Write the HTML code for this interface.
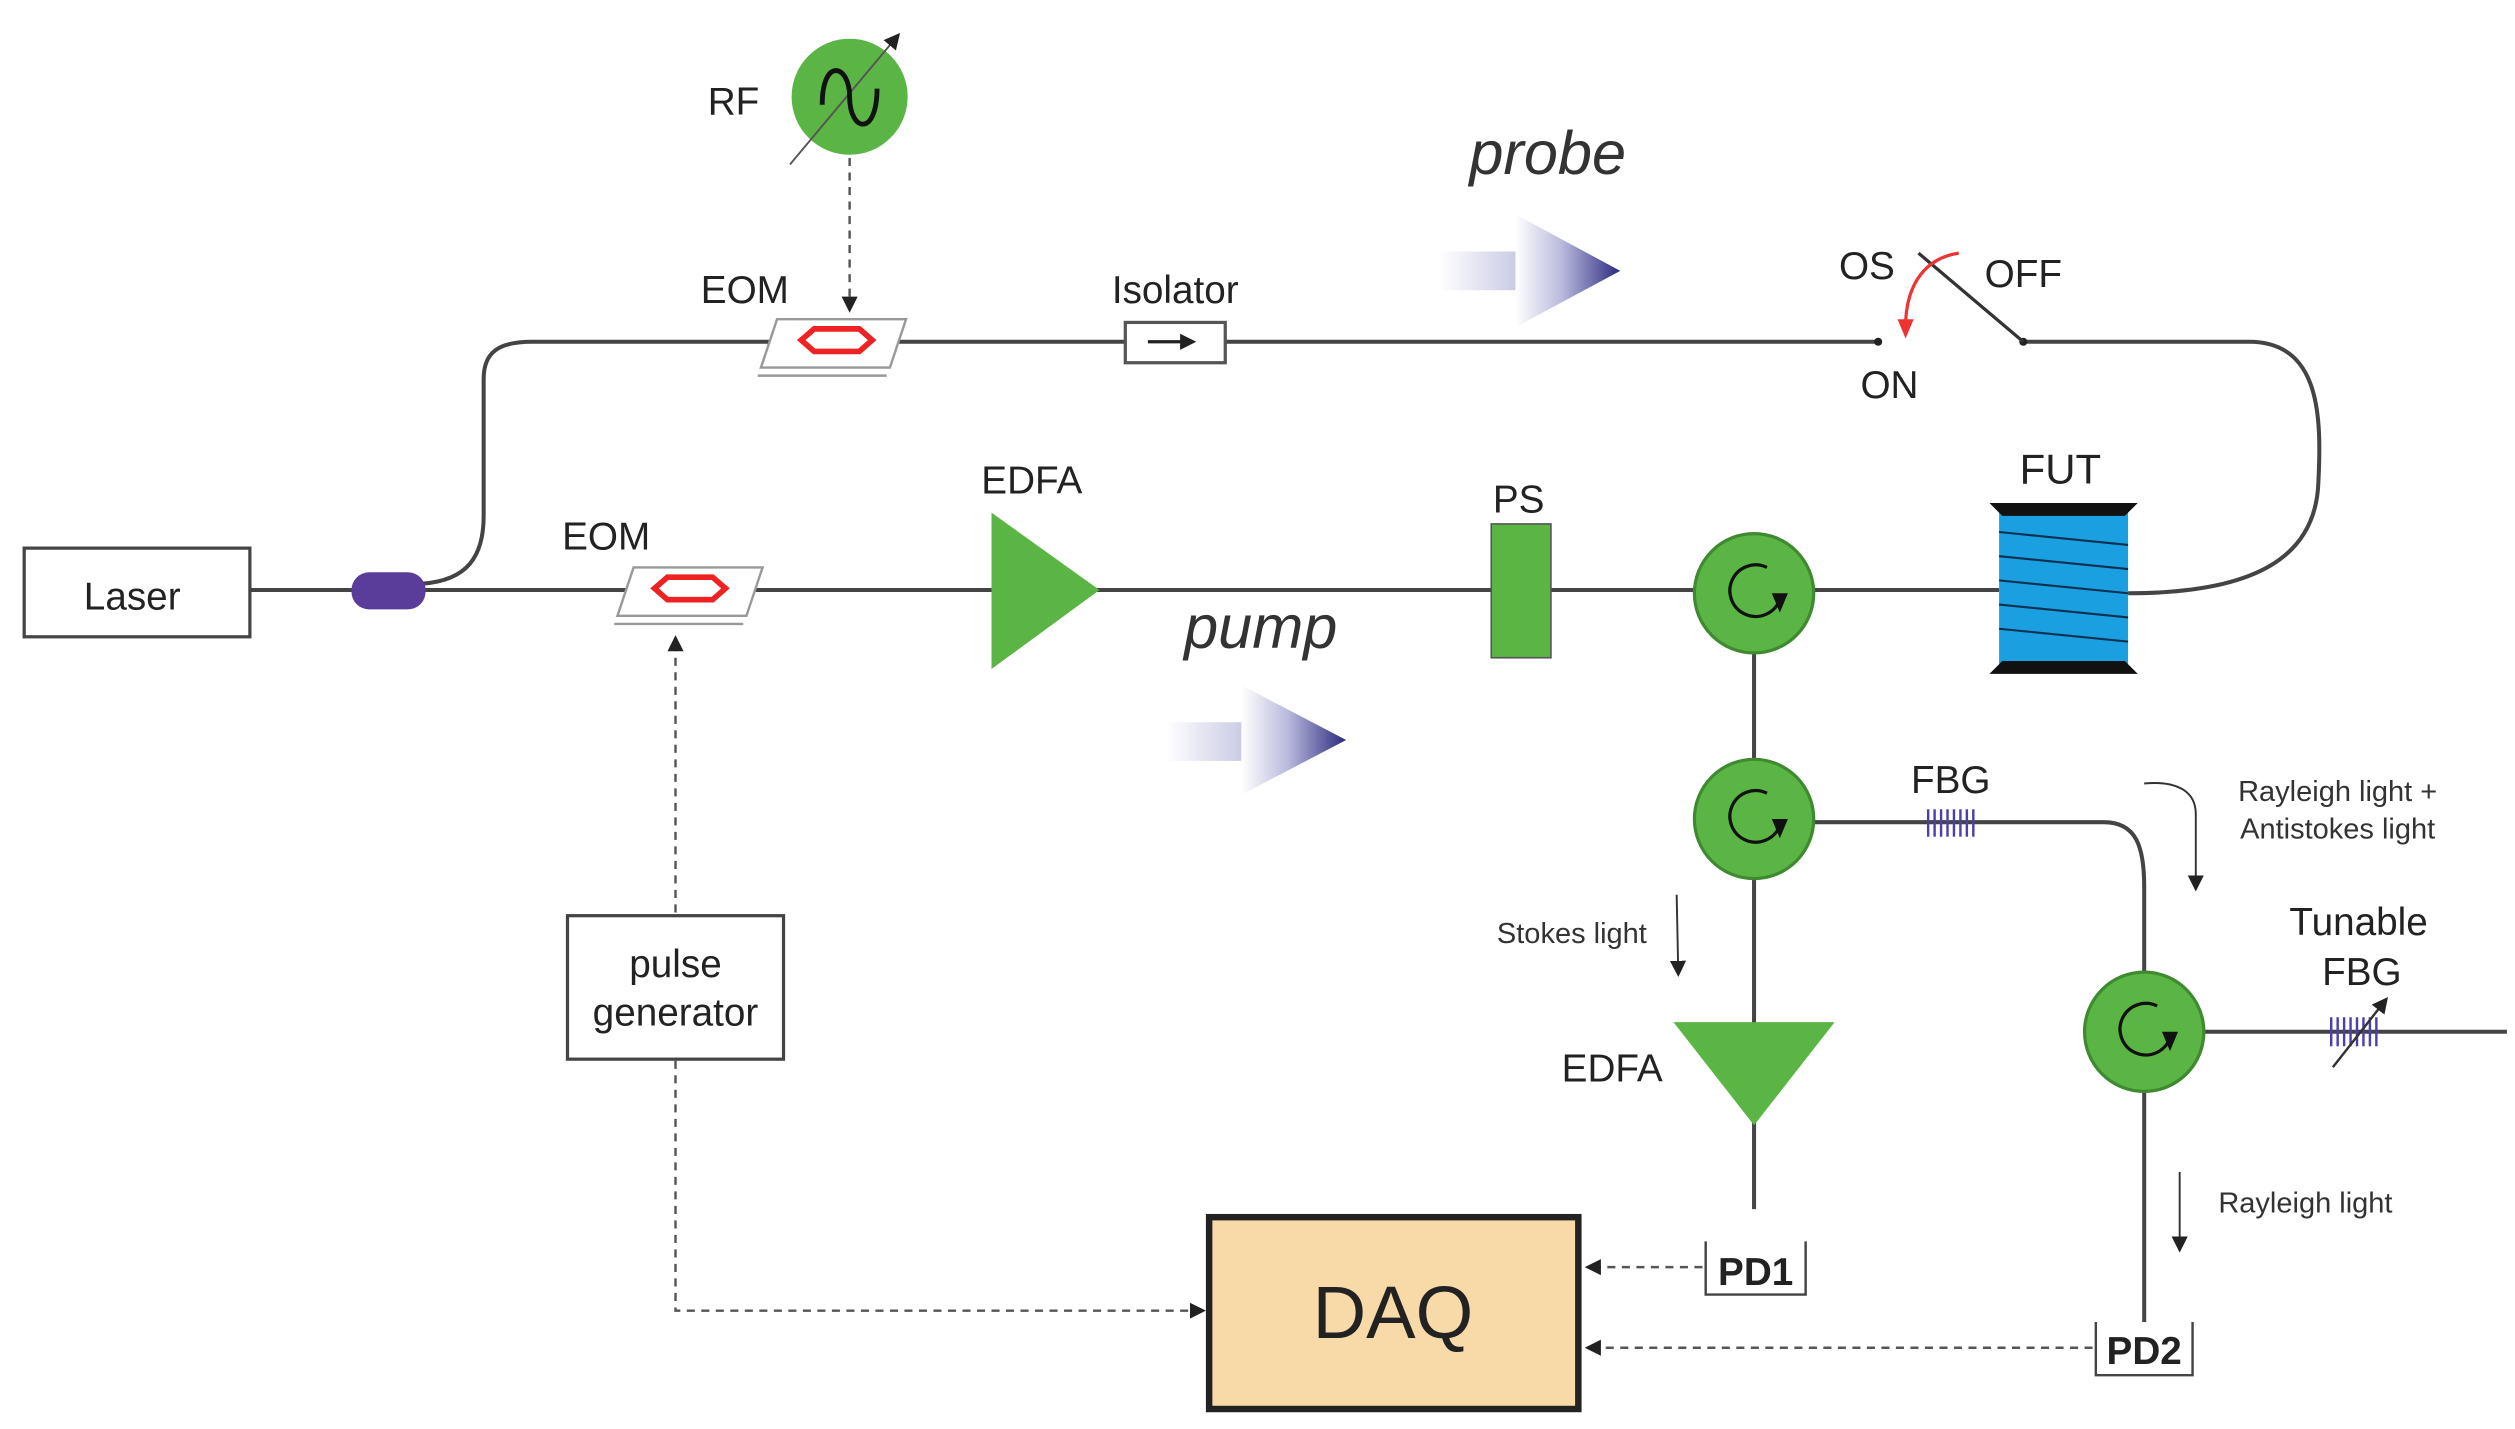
<!DOCTYPE html>
<html><head><meta charset="utf-8"><style>html,body{margin:0;padding:0;background:#fff}svg{display:block}</style></head><body>
<svg width="2515" height="1429" viewBox="0 0 1560 886.4" preserveAspectRatio="none" xmlns="http://www.w3.org/2000/svg" font-family="Liberation Sans, sans-serif">
<defs>
<marker id="ah" markerWidth="10" markerHeight="10" refX="8" refY="5" orient="auto" markerUnits="userSpaceOnUse"><path d="M0,0 L10,5 L0,10 z" fill="#222"/></marker>
<linearGradient id="gr" x1="0" x2="1" y1="0" y2="0"><stop offset="0" stop-color="#fff"/><stop offset="0.45" stop-color="#b8b8dc"/><stop offset="1" stop-color="#2a2a80"/></linearGradient>
<linearGradient id="tl" x1="0" x2="1"><stop offset="0" stop-color="#fff"/><stop offset="1" stop-color="#c8c8e4"/></linearGradient>
</defs>
<g stroke="#444" stroke-width="2.5" fill="none">
<line x1="155" y1="366" x2="1240" y2="366"/>
<path d="M262,362 C290,360 300,345 300,320 L300,235 C300,218 310,212 330,212 L1165,212"/>
<path d="M1255,212 L1395,212 C1440,212 1440,260 1438,300 C1436,345 1400,368 1320,368"/>
<line x1="1088" y1="405" x2="1088" y2="750"/>
<path d="M1125,510 L1305,510 C1325,510 1330,525 1330,550 L1330,603"/>
<line x1="1330" y1="677" x2="1330" y2="820"/>
<line x1="1367" y1="640" x2="1555" y2="640"/>
</g>
<!-- Laser -->
<rect x="15" y="340" width="140" height="55" fill="#fff" stroke="#444" stroke-width="2"/>
<text x="82" y="378" font-size="24" text-anchor="middle" fill="#222">Laser</text>
<rect x="218" y="355" width="46" height="23" rx="11" fill="#5a3d9a"/>
<!-- EOM top -->
<polygon points="482,198 562,198 552,228 472,228" fill="#fff" stroke="#999" stroke-width="1.5"/>
<line x1="470" y1="233" x2="550" y2="233" stroke="#999" stroke-width="1.5"/>
<polygon points="497,211 505,204 533,204 541,211 533,218 505,218" fill="none" stroke="#e22" stroke-width="3.5"/>
<text x="462" y="188" font-size="24" text-anchor="middle" fill="#222">EOM</text>
<!-- EOM bottom -->
<polygon points="393,352 473,352 463,382 383,382" fill="#fff" stroke="#999" stroke-width="1.5"/>
<line x1="381" y1="387" x2="461" y2="387" stroke="#999" stroke-width="1.5"/>
<polygon points="406,365 414,358 442,358 450,365 442,372 414,372" fill="none" stroke="#e22" stroke-width="3.5"/>
<text x="376" y="341" font-size="24" text-anchor="middle" fill="#222">EOM</text>
<!-- Isolator -->
<rect x="698" y="200" width="62" height="25" fill="#fff" stroke="#555" stroke-width="2"/>
<line x1="712" y1="212" x2="740" y2="212" stroke="#222" stroke-width="2" marker-end="url(#ah)"/>
<text x="729" y="188" font-size="24" text-anchor="middle" fill="#222">Isolator</text>
<!-- RF -->
<circle cx="527" cy="60" r="36" fill="#5bb545"/>
<line x1="490" y1="102" x2="557" y2="22" stroke="#555" stroke-width="1.2" marker-end="url(#ah)"/>
<path d="M510,65 C510,35 527,40 527,60 C527,82 544,85 544,55" fill="none" stroke="#111" stroke-width="3"/>
<text x="455" y="71" font-size="24" text-anchor="middle" fill="#222">RF</text>
<line x1="527" y1="98" x2="527" y2="192" stroke="#555" stroke-width="1.5" stroke-dasharray="5,4" marker-end="url(#ah)"/>
<!-- probe -->
<text x="960" y="108" font-size="38" font-style="italic" text-anchor="middle" fill="#333">probe</text>
<rect x="893" y="156" width="50" height="24" fill="url(#tl)"/>
<polygon points="940,133 1005,168 940,203" fill="url(#gr)"/>
<!-- pump -->
<text x="782" y="402" font-size="38" font-style="italic" text-anchor="middle" fill="#333">pump</text>
<rect x="723" y="448" width="50" height="24" fill="url(#tl)"/>
<polygon points="770,425 835,459 770,493" fill="url(#gr)"/>
<!-- switch -->
<circle cx="1165" cy="212" r="2.5" fill="#222"/><circle cx="1255" cy="212" r="2.5" fill="#222"/>
<line x1="1255" y1="212" x2="1190" y2="157" stroke="#333" stroke-width="2"/>
<path d="M1215,157 C1195,160 1183,175 1182,200" fill="none" stroke="#e33" stroke-width="2" marker-end="url(#ahr)"/>
<polygon points="1177,198 1187,198 1182,210" fill="#e33"/>
<text x="1158" y="173" font-size="24" text-anchor="middle" fill="#222">OS</text>
<text x="1255" y="178" font-size="24" text-anchor="middle" fill="#222">OFF</text>
<text x="1172" y="247" font-size="24" text-anchor="middle" fill="#222">ON</text>
<!-- EDFA 1 -->
<polygon points="615,318 682,366 615,415" fill="#5bb545"/>
<text x="640" y="306" font-size="24" text-anchor="middle" fill="#222">EDFA</text>
<!-- PS -->
<rect x="925" y="325" width="37" height="83" fill="#5bb545" stroke="#555" stroke-width="1"/>
<text x="942" y="318" font-size="24" text-anchor="middle" fill="#222">PS</text>
<!-- FUT -->
<rect x="1240" y="318" width="80" height="94" fill="#1aa0e0"/>
<g stroke="#0a3050" stroke-width="1.3">
<line x1="1240" y1="330" x2="1320" y2="338"/><line x1="1240" y1="345" x2="1320" y2="353"/><line x1="1240" y1="360" x2="1320" y2="368"/><line x1="1240" y1="375" x2="1320" y2="383"/><line x1="1240" y1="390" x2="1320" y2="398"/>
</g>
<polygon points="1234,312 1326,312 1318,320 1242,320" fill="#111"/>
<polygon points="1242,410 1318,410 1326,418 1234,418" fill="#111"/>
<text x="1278" y="300" font-size="26" text-anchor="middle" fill="#222">FUT</text>
<!-- circulators -->
<g id="c">
<circle cx="1088" cy="368" r="37" fill="#5bb545" stroke="#3f8a30" stroke-width="2"/>
<path d="M1096,352 A16,16 0 1 0 1104,372" fill="none" stroke="#111" stroke-width="2"/>
<polygon points="1099,368 1109,368 1104,380" fill="#111"/>
</g>
<use href="#c" y="140"/>
<use href="#c" x="242" y="272"/>
<!-- FBG -->
<g stroke="#4a3fb0" stroke-width="1.5">
<line x1="1196" y1="502" x2="1196" y2="519"/><line x1="1200" y1="502" x2="1200" y2="519"/><line x1="1204" y1="502" x2="1204" y2="519"/><line x1="1208" y1="502" x2="1208" y2="519"/><line x1="1212" y1="502" x2="1212" y2="519"/><line x1="1216" y1="502" x2="1216" y2="519"/><line x1="1220" y1="502" x2="1220" y2="519"/><line x1="1224" y1="502" x2="1224" y2="519"/>
<line x1="1446" y1="631" x2="1446" y2="649"/><line x1="1450" y1="631" x2="1450" y2="649"/><line x1="1454" y1="631" x2="1454" y2="649"/><line x1="1458" y1="631" x2="1458" y2="649"/><line x1="1462" y1="631" x2="1462" y2="649"/><line x1="1466" y1="631" x2="1466" y2="649"/><line x1="1470" y1="631" x2="1470" y2="649"/><line x1="1474" y1="631" x2="1474" y2="649"/>
</g>
<text x="1210" y="492" font-size="24" text-anchor="middle" fill="#222">FBG</text>
<line x1="1447" y1="662" x2="1480" y2="620" stroke="#333" stroke-width="1.5" marker-end="url(#ah)"/>
<text x="1463" y="580" font-size="24" text-anchor="middle" fill="#222">Tunable</text>
<text x="1465" y="611" font-size="24" text-anchor="middle" fill="#222">FBG</text>
<!-- EDFA 2 -->
<polygon points="1038,634 1138,634 1088,698" fill="#5bb545"/>
<text x="1000" y="671" font-size="24" text-anchor="middle" fill="#222">EDFA</text>
<!-- light labels -->
<text x="975" y="585" font-size="18" text-anchor="middle" fill="#333">Stokes light</text>
<line x1="1040" y1="555" x2="1041" y2="604" stroke="#333" stroke-width="1.2" marker-end="url(#ah)"/>
<text x="1450" y="497" font-size="18" text-anchor="middle" fill="#333">Rayleigh light +</text>
<text x="1450" y="520" font-size="18" text-anchor="middle" fill="#333">Antistokes light</text>
<path d="M1330,486 C1352,484 1362,492 1362,505 L1362,551" fill="none" stroke="#333" stroke-width="1.2" marker-end="url(#ah)"/>
<text x="1430" y="752" font-size="18" text-anchor="middle" fill="#333">Rayleigh light</text>
<line x1="1352" y1="727" x2="1352" y2="775" stroke="#333" stroke-width="1.2" marker-end="url(#ah)"/>
<!-- PDs -->
<path d="M1058,770 L1058,803 L1120,803 L1120,770" fill="none" stroke="#444" stroke-width="1.5"/>
<text x="1089" y="797" font-size="24" font-weight="bold" text-anchor="middle" fill="#222">PD1</text>
<path d="M1300,820 L1300,853 L1360,853 L1360,820" fill="none" stroke="#444" stroke-width="1.5"/>
<text x="1330" y="846" font-size="24" font-weight="bold" text-anchor="middle" fill="#222">PD2</text>
<!-- DAQ -->
<rect x="750" y="755" width="229" height="119" fill="#f8d9a8" stroke="#222" stroke-width="4"/>
<text x="864" y="830" font-size="46" text-anchor="middle" fill="#222">DAQ</text>
<!-- pulse gen -->
<rect x="352" y="568" width="134" height="89" fill="#fff" stroke="#444" stroke-width="2"/>
<text x="419" y="606" font-size="24" text-anchor="middle" fill="#222">pulse</text>
<text x="419" y="636" font-size="24" text-anchor="middle" fill="#222">generator</text>
<g stroke="#555" stroke-width="1.5" stroke-dasharray="5,4" fill="none">
<line x1="419" y1="566" x2="419" y2="396" marker-end="url(#ah)"/>
<path d="M419,658 L419,813 L746,813" marker-end="url(#ah)"/>
<line x1="1056" y1="786" x2="985" y2="786" marker-end="url(#ah)"/>
<line x1="1298" y1="836" x2="985" y2="836" marker-end="url(#ah)"/>
</g>
</svg>
</body></html>
